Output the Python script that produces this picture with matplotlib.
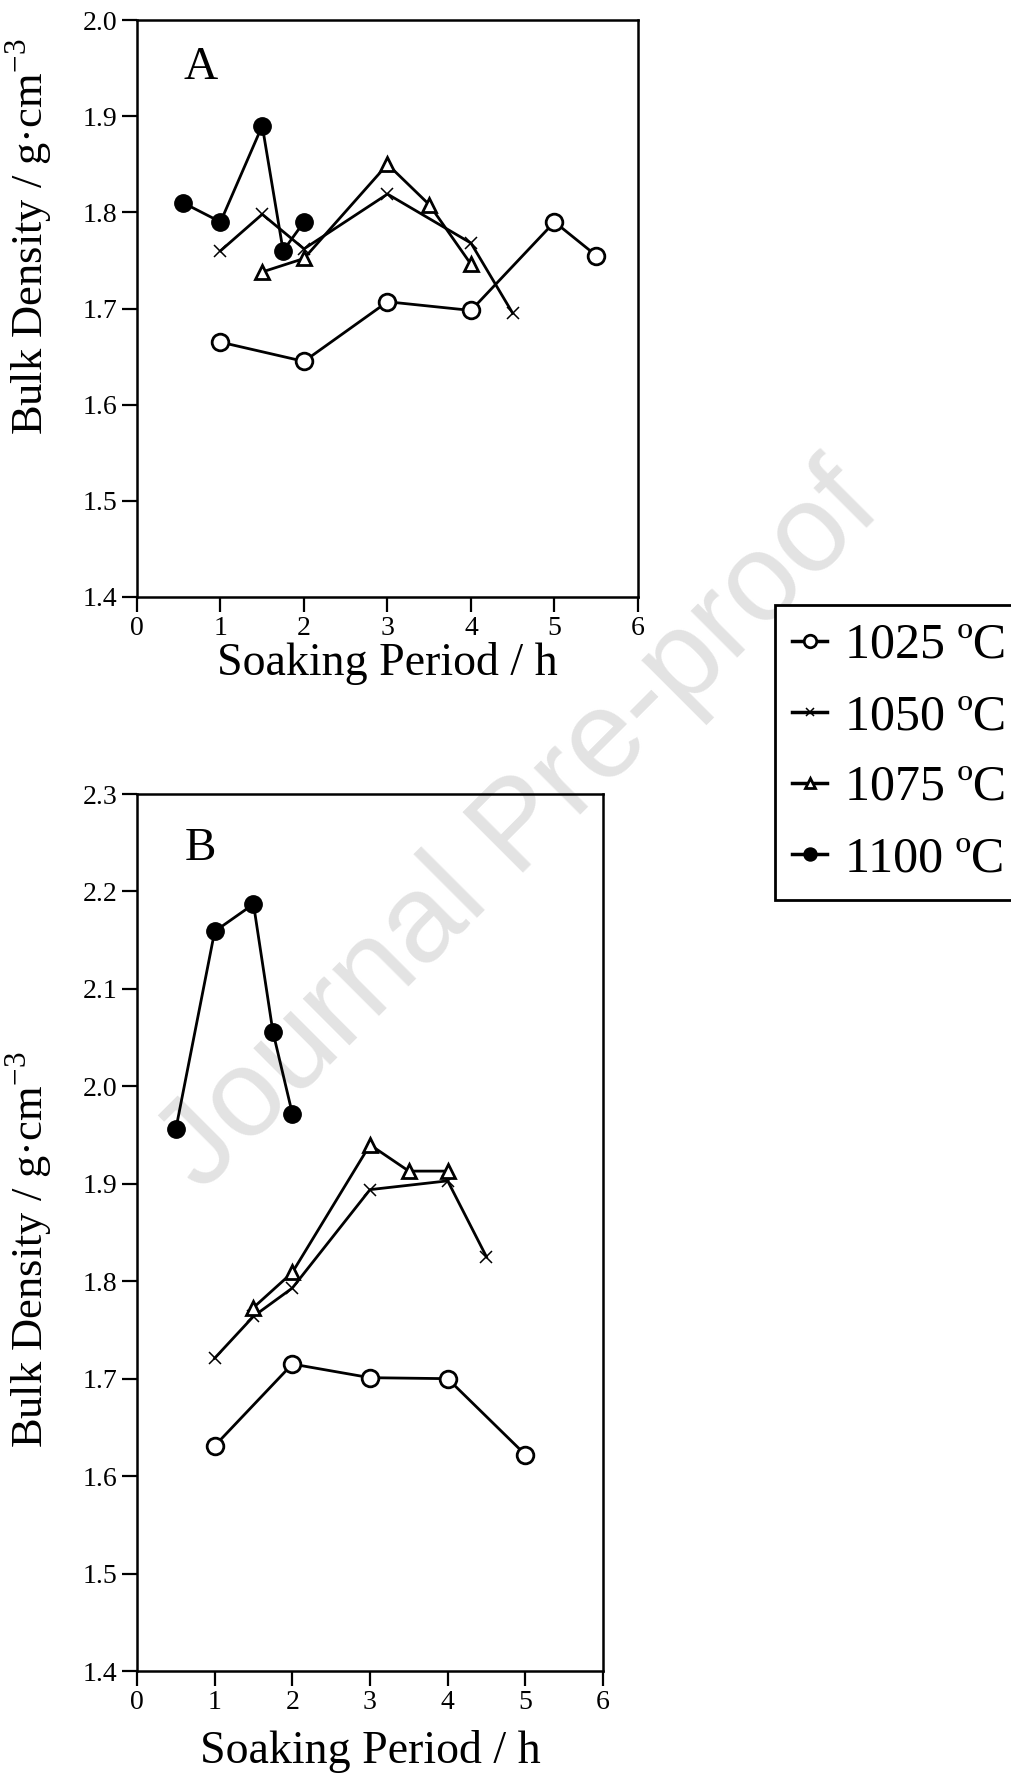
import matplotlib
matplotlib.use("Agg")
import matplotlib.pyplot as plt
from matplotlib.lines import Line2D

plt.rcParams['font.family'] = ['Liberation Serif', 'DejaVu Serif']
plt.rcParams['mathtext.fontset'] = 'custom'
plt.rcParams['mathtext.rm'] = 'Liberation Serif'

series_labels = ['1025 ºC', '1050 ºC', '1075 ºC', '1100 ºC']

# Panel A
a_x_1025 = [1, 2, 3, 4, 5, 5.5]
a_y_1025 = [1.665, 1.645, 1.707, 1.698, 1.790, 1.755]
a_x_1050 = [1, 1.5, 2, 3, 4, 4.5]
a_y_1050 = [1.760, 1.798, 1.762, 1.819, 1.768, 1.695]
a_x_1075 = [1.5, 2, 3, 3.5, 4]
a_y_1075 = [1.738, 1.752, 1.850, 1.808, 1.746]
a_x_1100 = [0.55, 1, 1.5, 1.75, 2]
a_y_1100 = [1.810, 1.790, 1.890, 1.760, 1.790]

# Panel B
b_x_1025 = [1, 2, 3, 4, 5]
b_y_1025 = [1.631, 1.715, 1.701, 1.700, 1.622]
b_x_1050 = [1, 1.5, 2, 3, 4, 4.5]
b_y_1050 = [1.721, 1.764, 1.793, 1.894, 1.903, 1.825]
b_x_1075 = [1.5, 2, 3, 3.5, 4]
b_y_1075 = [1.773, 1.809, 1.940, 1.913, 1.913]
b_x_1100 = [0.5, 1, 1.5, 1.75, 2]
b_y_1100 = [1.956, 2.159, 2.187, 2.056, 1.972]

x_ticks = [0, 1, 2, 3, 4, 5, 6]
a_y_ticks = [1.4, 1.5, 1.6, 1.7, 1.8, 1.9, 2.0]
b_y_ticks = [1.4, 1.5, 1.6, 1.7, 1.8, 1.9, 2.0, 2.1, 2.2, 2.3]

W, H = 1012, 1780
fig = plt.figure(figsize=(W / 100, H / 100), dpi=100)

def px_axes(l, t, r, b):
    return fig.add_axes([l / W, 1 - b / H, (r - l) / W, (b - t) / H])

axA = px_axes(137, 20, 638, 597)
axB = px_axes(137, 794, 603, 1671)

styles = [
    dict(marker='o', markersize=12, markerfacecolor='white', markeredgecolor='black', markeredgewidth=2),
    dict(marker='x', markersize=8.5, markeredgecolor='black', markeredgewidth=1.1),
    dict(marker='^', markersize=10.5, markerfacecolor='white', markeredgecolor='black', markeredgewidth=2),
    dict(marker='o', markersize=12.5, markerfacecolor='black', markeredgecolor='black', markeredgewidth=1),
]

dataA = [(a_x_1025, a_y_1025), (a_x_1050, a_y_1050), (a_x_1075, a_y_1075), (a_x_1100, a_y_1100)]
dataB = [(b_x_1025, b_y_1025), (b_x_1050, b_y_1050), (b_x_1075, b_y_1075), (b_x_1100, b_y_1100)]

for ax, data, yt, letter, lx, ly in [(axA, dataA, a_y_ticks, 'A', 0.126, 0.918),
                                     (axB, dataB, b_y_ticks, 'B', 0.135, 0.938)]:
    ax.set_facecolor('none')
    for (xs, ys), st in zip(data, styles):
        ax.plot(xs, ys, color='black', linewidth=2.0, **st)
    ax.set_xlim(0, 6)
    ax.set_ylim(yt[0], yt[-1])
    ax.set_xticks(x_ticks)
    ax.set_xticklabels([str(v) for v in x_ticks])
    ax.set_yticks(yt)
    ax.set_yticklabels(['%.1f' % v for v in yt])
    ax.tick_params(direction='out', length=11, width=1.6, labelsize=20, pad=3, colors='black')
    for s in ax.spines.values():
        s.set_linewidth(1.8)
        s.set_color('black')
    ax.text(lx, ly, letter, transform=ax.transAxes, fontsize=34, ha='center', va='center')
    ax.set_xlabel('Soaking Period / h', fontsize=33)
    ax.set_ylabel(r'Bulk Density / g·cm$^{\mathregular{-3}}$', fontsize=32)

axA.xaxis.set_label_coords(0.5, -0.078)
axA.yaxis.set_label_coords(-0.164, 0.625)
axB.xaxis.set_label_coords(0.5, -0.067)
axB.yaxis.set_label_coords(-0.176, 0.48)

# watermark
fig.text(520 / W, 1 - 830 / H, 'Journal Pre-proof', family=['Liberation Sans'],
         fontsize=90, color='#e3e3e3', rotation=45, ha='center', va='center', zorder=-5)

handles = []
for st in styles:
    st2 = dict(st)
    st2['markersize'] = st['markersize'] * 0.75
    handles.append(Line2D([], [], color='black', linewidth=2.5, **st2))

leg = fig.legend(handles, series_labels, loc='upper left',
                 bbox_to_anchor=(775 / W, 1 - 605 / H), borderaxespad=0,
                 fontsize=36, handlelength=0.7, handletextpad=0.35,
                 labelspacing=0.49, borderpad=0.35, fancybox=False,
                 framealpha=1, edgecolor='black')
leg.get_frame().set_linewidth(2)

fig.savefig('out.png', dpi=100)
